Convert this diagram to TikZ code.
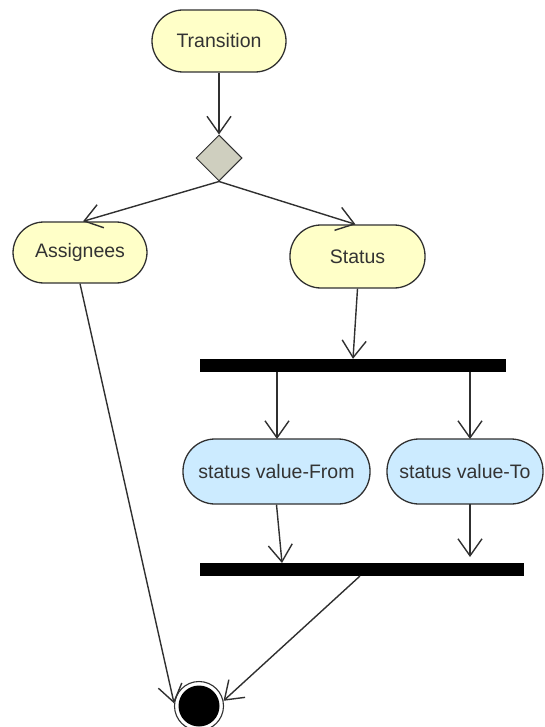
\documentclass[tikz,border=0pt]{standalone}
\usepackage{fontspec}
\setmainfont{Liberation Sans}
\usetikzlibrary{shapes.geometric,arrows.meta}
\definecolor{actyellow}{HTML}{FFFFC8}
\definecolor{actblue}{HTML}{CCEBFF}
\definecolor{decgray}{HTML}{CFCFBF}
\definecolor{edgegray}{HTML}{303030}
\definecolor{txtgray}{HTML}{333333}
\begin{document}
\begin{tikzpicture}[x=1pt,y=-1pt,
  activity/.style={draw=edgegray,line width=1.3pt,rounded corners=31pt,
    minimum height=62pt,inner sep=0pt,text=txtgray,
    font=\fontsize{19.5}{22}\selectfont},
  yellowact/.style={activity,fill=actyellow},
  blueact/.style={activity,fill=actblue,minimum height=65pt,rounded corners=32pt},
  syncbar/.style={fill=black,draw=none,minimum height=13pt,inner sep=0pt},
  flow/.style={draw=edgegray,line width=1.4pt,
    -{Straight Barb[length=17pt,width=24pt,line width=1.4pt]}},
  plain/.style={draw=edgegray,line width=1.4pt}]
\useasboundingbox (0,0) rectangle (544,727);

% activities
\node[yellowact,minimum width=134pt] (trans) at (219,41) {Transition};
\node[diamond,draw=edgegray,line width=1pt,fill=decgray,minimum width=46pt,
      minimum height=46pt,inner sep=0pt] (dec) at (219,158) {};
\node[yellowact,minimum width=134pt,minimum height=61pt] (assg) at (80,252.5) {Assignees};
\node[yellowact,minimum width=135pt,minimum height=63pt] (status) at (357.5,256.5) {Status};

% fork / join bars
\node[syncbar,minimum width=306pt] (bar1) at (353,365.5) {};
\node[blueact,minimum width=187pt] (from) at (276.5,471.5) {status value-From};
\node[blueact,minimum width=156pt] (to) at (465,471.5) {status value-To};
\node[syncbar,minimum width=324pt] (bar2) at (362,569.5) {};

% final state
\node[circle,draw=edgegray,line width=1.1pt,fill=white,minimum size=49pt,inner sep=0pt] (end) at (199,706) {};
\fill[black] (end.center) circle (20.5pt);

% helper points on bars
\coordinate (f1) at (277,372);
\coordinate (f2) at (470,372);
\coordinate (t1) at (277,439);
\coordinate (t2) at (470,439);
\coordinate (s2) at (470,504);
\coordinate (j1) at (282,563);
\coordinate (j2) at (470,557);
\coordinate (b2) at (360,576);

% control flow
\draw[flow] (trans.south) -- (dec.north);
\draw[flow] (dec.south) -- ([xshift=3pt]assg.north);
\draw[flow] (dec.south) -- ([xshift=-2pt]status.north);
\draw[flow] (status.south) -- (bar1.north);
\draw[flow] (f1) -- (t1);
\draw[flow] (f2) -- (t2);
\draw[flow] (from.south) -- (j1);
\draw[flow] (s2) -- (j2);
\draw[flow] (assg.south) -- (end.174);
\draw[flow] (b2) -- (end.12);
\end{tikzpicture}
\end{document}
